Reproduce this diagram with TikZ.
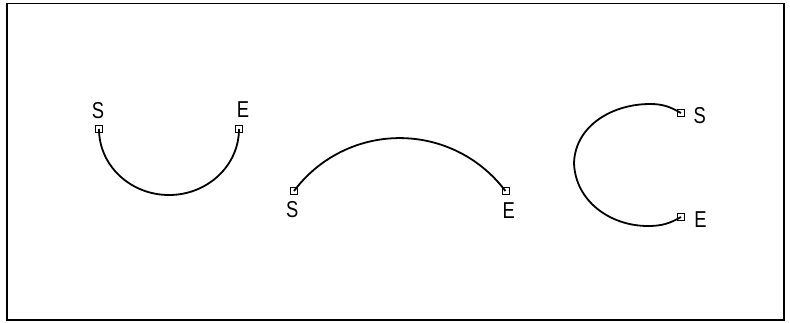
\documentclass[tikz,border=0pt]{standalone}
\usepackage{fontspec}
\newfontfamily\labfont[FakeStretch=0.8]{Liberation Sans}
\begin{document}
\begin{tikzpicture}[x=1pt,y=-1pt,
  pt/.style={draw,line width=0.8pt,minimum size=7pt,inner sep=0pt,outer sep=0pt},
  curve/.style={line width=1.8pt},
  lab/.style={font=\labfont\fontsize{23}{23}\selectfont,inner sep=0pt}]
\useasboundingbox (0,0) rectangle (790,322);
\draw[line width=1.6pt] (7,3.5) rectangle (784,320);
% first arc
\node[pt] (s1) at (99,129) {};
\node[pt] (e1) at (239,129) {};
\node[lab] (ls1) at (98,111) {S};
\node[lab] (le1) at (243,110) {E};
\draw[curve] (s1.center) arc[start angle=180,end angle=360,x radius=70pt,y radius=66pt];
% second arc
\node[pt] (s2) at (294,191) {};
\node[pt] (e2) at (505.5,191) {};
\node[lab] (ls2) at (292.3,210) {S};
\node[lab] (le2) at (508.8,210.5) {E};
\draw[curve] (s2.center) arc[start angle=143.2,end angle=36.8,radius=132pt];
% third arc
\node[pt] (s3) at (681,113) {};
\node[pt] (e3) at (681,217) {};
\node[lab] (ls3) at (699.7,116) {S};
\node[lab] (le3) at (700.5,219.7) {E};
\coordinate (t3) at (650,104);
\coordinate (l3) at (574,163);
\coordinate (b3) at (648,226);
\draw[curve] (s3.center) to[out=150,in=0] (t3) to[out=180,in=88] (l3)
  to[out=-88,in=180] (b3) to[out=0,in=-150] (e3.center);
\end{tikzpicture}
\end{document}
